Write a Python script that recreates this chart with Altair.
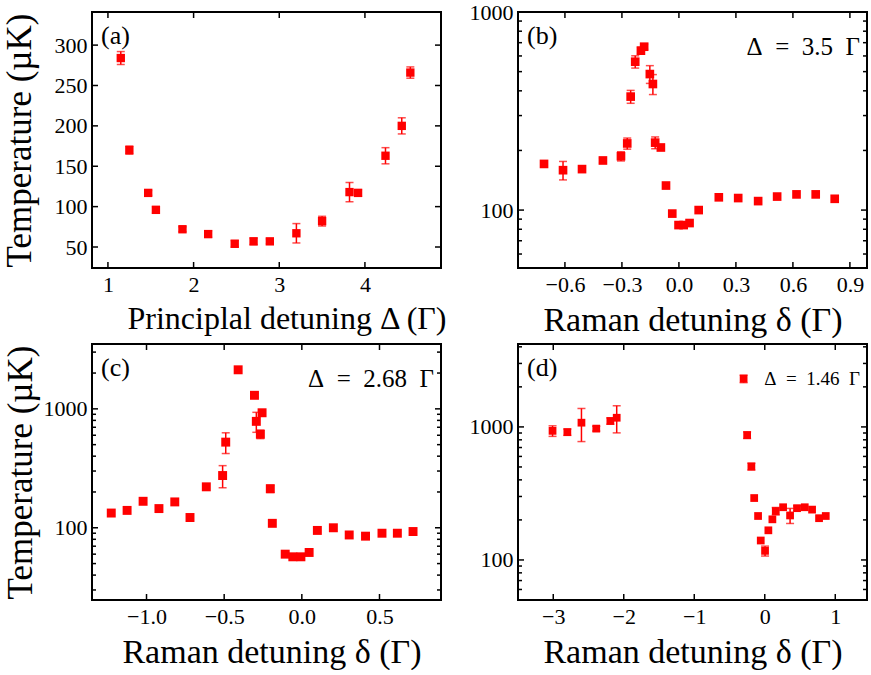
import altair as alt
import pandas as pd

RED = "#ff0000"
FONT = "Liberation Serif"
W, H = 349, 256

# ---------------- data ----------------
# (a) temperature vs principal detuning
A_DETUNING = [1.15, 1.25, 1.47, 1.56, 1.87, 2.17, 2.48, 2.70, 2.89, 3.20, 3.50, 3.82, 3.92, 4.24, 4.43, 4.53]
A_TEMP = [284, 170, 117, 96, 72, 66, 54, 57, 57, 67, 82, 118, 117, 163, 200, 266]
A_ERR = [8, 5, 3, 4, 3, 4, 4, 4, 3, 12, 6, 12, 4, 10, 10, 7]

# (b) Delta = 3.5 Gamma
B_DELTA = [-0.71, -0.61, -0.51, -0.40, -0.305, -0.272, -0.254, -0.23, -0.20, -0.183, -0.153, -0.137,
           -0.125, -0.095, -0.068, -0.035, -0.002, 0.025, 0.056, 0.104, 0.21, 0.312, 0.417, 0.517,
           0.619, 0.72, 0.82]
B_TEMP = [171, 159, 161, 178, 187, 217, 374, 561, 638, 668, 486, 433, 219, 207, 133, 96, 84, 84, 86,
          100, 116, 115, 111, 117, 120, 120, 114]
B_ERR = [0, 17, 0, 5, 10, 14, 28, 40, 25, 20, 50, 50, 15, 0, 0, 0, 0, 0, 0, 0, 0, 0, 0, 0, 0, 0, 0]

# (c) Delta = 2.68 Gamma
C_DELTA = [-1.227, -1.125, -1.022, -0.92, -0.818, -0.72, -0.615, -0.51, -0.49, -0.41, -0.305, -0.293,
           -0.256, -0.267, -0.203, -0.19, -0.107, -0.058, -0.006, 0.047, 0.10, 0.203, 0.305, 0.41,
           0.516, 0.615, 0.716]
C_TEMP = [133, 140, 167, 145, 165, 122, 221, 275, 525, 2130, 1300, 785, 927, 612, 213, 109, 60, 57,
          57, 62, 95, 100, 87, 85, 90, 90, 93]
C_ERR = [0, 0, 0, 0, 0, 0, 0, 58, 104, 0, 50, 150, 0, 50, 15, 0, 0, 0, 0, 0, 0, 0, 0, 0, 0, 0, 0]

# (d) Delta = 1.46 Gamma
D_DELTA = [-3.01, -2.80, -2.60, -2.39, -2.19, -2.10, -0.30, -0.25, -0.19, -0.15, -0.095, -0.057,
           0.004, 0.051, 0.108, 0.156, 0.26, 0.359, 0.458, 0.567, 0.671, 0.77, 0.865]
D_TEMP = [934, 914, 1076, 971, 1108, 1172, 2302, 868, 504, 292, 214, 140, 117, 167, 202, 233, 249,
          216, 245, 249, 239, 206, 214]
D_ERR = [85, 50, 300, 40, 60, 270, 150, 50, 30, 0, 0, 0, 10, 0, 0, 15, 0, 28, 10, 0, 0, 0, 0]

# tick values
A_XTICKS = [1, 2, 3, 4]
A_YTICKS = [50, 100, 150, 200, 250, 300]
B_XTICKS = [-0.6, -0.3, 0.0, 0.3, 0.6, 0.9]
C_XTICKS = [-1.0, -0.5, 0.0, 0.5]
D_XTICKS = [-3, -2, -1, 0, 1]
LOG_MAJOR = [100, 1000]
B_MINOR = [60, 70, 80, 90, 200, 300, 400, 500, 600, 700, 800, 900]
C_MINOR = [30, 40, 50, 60, 70, 80, 90, 200, 300, 400, 500, 600, 700, 800, 900, 2000, 3000]
D_MINOR = [60, 70, 80, 90, 200, 300, 400, 500, 600, 700, 800, 900, 2000, 3000, 4000]

Y_TITLE = "Temperature (µK)"
A_XTITLE = "Principlal detuning Δ (Γ)"
R_XTITLE = "Raman detuning δ (Γ)"
LETTERS = ["(a)", "(b)", "(c)", "(d)"]
NOTES = ["", "Δ\u2002=\u20023.5\u2002Γ", "Δ\u2002=\u20022.68\u2002Γ", "Δ\u2002=\u20021.46\u2002Γ"]


def panel(xs, ts, errs, xdom, ydom, log, xticks, xfmt, ymajor, yminor, xtitle, ytitle,
          ytitle_pad, letter, note, note_size, msize, xtitle_size, xtitle_shift=0):
    df = pd.DataFrame({"x": xs, "t": ts, "err": errs})
    df["lo"] = df["t"] - df["err"]
    df["hi"] = df["t"] + df["err"]
    xs_ = alt.Scale(domain=xdom, nice=False, zero=False)
    if log:
        ys_ = alt.Scale(type="log", domain=ydom, nice=False)
    else:
        ys_ = alt.Scale(domain=ydom, nice=False, zero=False)

    xkw = {}
    if xtitle_shift:
        xkw["titleX"] = W / 2 + xtitle_shift
    xaxis = alt.Axis(values=xticks, format=xfmt, title=xtitle, labelPadding=6, titlePadding=8,
                     titleFontSize=xtitle_size, labelFlush=False, **xkw)
    yaxis = alt.Axis(values=ymajor, format="d", title=ytitle, labelPadding=5,
                     titlePadding=ytitle_pad)

    def X(f):
        return alt.X(f, scale=xs_, axis=xaxis)

    def Y(f):
        return alt.Y(f, scale=ys_, axis=yaxis)

    base = alt.Chart(df)
    pts = base.mark_square(color=RED, filled=True, opacity=1, size=msize).encode(
        x=X("x:Q"), y=Y("t:Q"))
    eb = base.transform_filter("datum.err > 0")
    bars = eb.mark_rule(color=RED, strokeWidth=1.5).encode(
        x=X("x:Q"), y=Y("lo:Q"), y2="hi:Q")
    cap_lo = eb.mark_tick(color=RED, orient="horizontal", size=8, thickness=1.5).encode(
        x=X("x:Q"), y=Y("lo:Q"))
    cap_hi = eb.mark_tick(color=RED, orient="horizontal", size=8, thickness=1.5).encode(
        x=X("x:Q"), y=Y("hi:Q"))

    layers = [bars, cap_lo, cap_hi]

    def yticks(vals, ln):
        d = alt.Chart(pd.DataFrame({"v": vals}))
        left = d.mark_rule(color="black", strokeWidth=1.5).encode(
            y=Y("v:Q"), x=alt.value(0), x2=alt.value(ln))
        right = d.mark_rule(color="black", strokeWidth=1.5).encode(
            y=Y("v:Q"), x=alt.value(W), x2=alt.value(W - ln))
        return [left, right]

    def xticks_l(vals, ln):
        d = alt.Chart(pd.DataFrame({"v": vals}))
        bot = d.mark_rule(color="black", strokeWidth=1.5).encode(
            x=X("v:Q"), y=alt.value(H), y2=alt.value(H - ln))
        top = d.mark_rule(color="black", strokeWidth=1.5).encode(
            x=X("v:Q"), y=alt.value(0), y2=alt.value(ln))
        return [bot, top]

    layers += yticks(ymajor, 6)
    if yminor:
        layers += yticks(yminor, 4)
    layers += xticks_l(xticks, 6)

    lab = alt.Chart(pd.DataFrame({"s": [letter]})).mark_text(
        font=FONT, fontSize=26, align="left", baseline="middle", color="black"
    ).encode(x=alt.value(9), y=alt.value(24), text="s:N")
    layers.append(lab)
    if note:
        nt = alt.Chart(pd.DataFrame({"s": [note]})).mark_text(
            font=FONT, fontSize=note_size, align="right", baseline="middle", color="black"
        ).encode(x=alt.value(W - 7), y=alt.value(35), text="s:N")
        layers.append(nt)

    return alt.layer(pts, *layers).properties(width=W, height=H)


pa = panel(A_DETUNING, A_TEMP, A_ERR, [0.814, 4.888], [24, 341], False, A_XTICKS, "d",
           A_YTICKS, None, A_XTITLE, Y_TITLE, 17, LETTERS[0], NOTES[0], 25, 70, 32, 20)
pb = panel(B_DELTA, B_TEMP, B_ERR, [-0.847, 0.99], [51, 1000], True, B_XTICKS, ".1f",
           LOG_MAJOR, B_MINOR, R_XTITLE, None, 10, LETTERS[1], NOTES[1], 25, 75, 34)
pc = panel(C_DELTA, C_TEMP, C_ERR, [-1.351, 0.896], [24.7, 3510], True, C_XTICKS, ".1f",
           LOG_MAJOR, C_MINOR, R_XTITLE, Y_TITLE, 5, LETTERS[2], NOTES[2], 25, 80, 34, 5)
pd_ = panel(D_DELTA, D_TEMP, D_ERR, [-3.5, 1.45], [50, 4200], True, D_XTICKS, "d",
            LOG_MAJOR, D_MINOR, R_XTITLE, None, 10, LETTERS[3], NOTES[3], 19, 60, 34)

chart = alt.concat(pa, pb, pc, pd_, columns=2, spacing={"row": 76, "column": 77},
                   bounds="flush").properties(
    padding={"left": 0, "top": 0, "right": 2, "bottom": 0},
    background="white",
).configure_view(stroke="black", strokeWidth=2).configure_axis(
    labelFont=FONT, titleFont=FONT, labelFontSize=22, titleFontSize=35,
    labelColor="black", titleColor="black", titleFontWeight="normal",
    ticks=False, domain=False, grid=False,
)

chart.save("out.html", embed_options={"renderer": "svg", "actions": False})
